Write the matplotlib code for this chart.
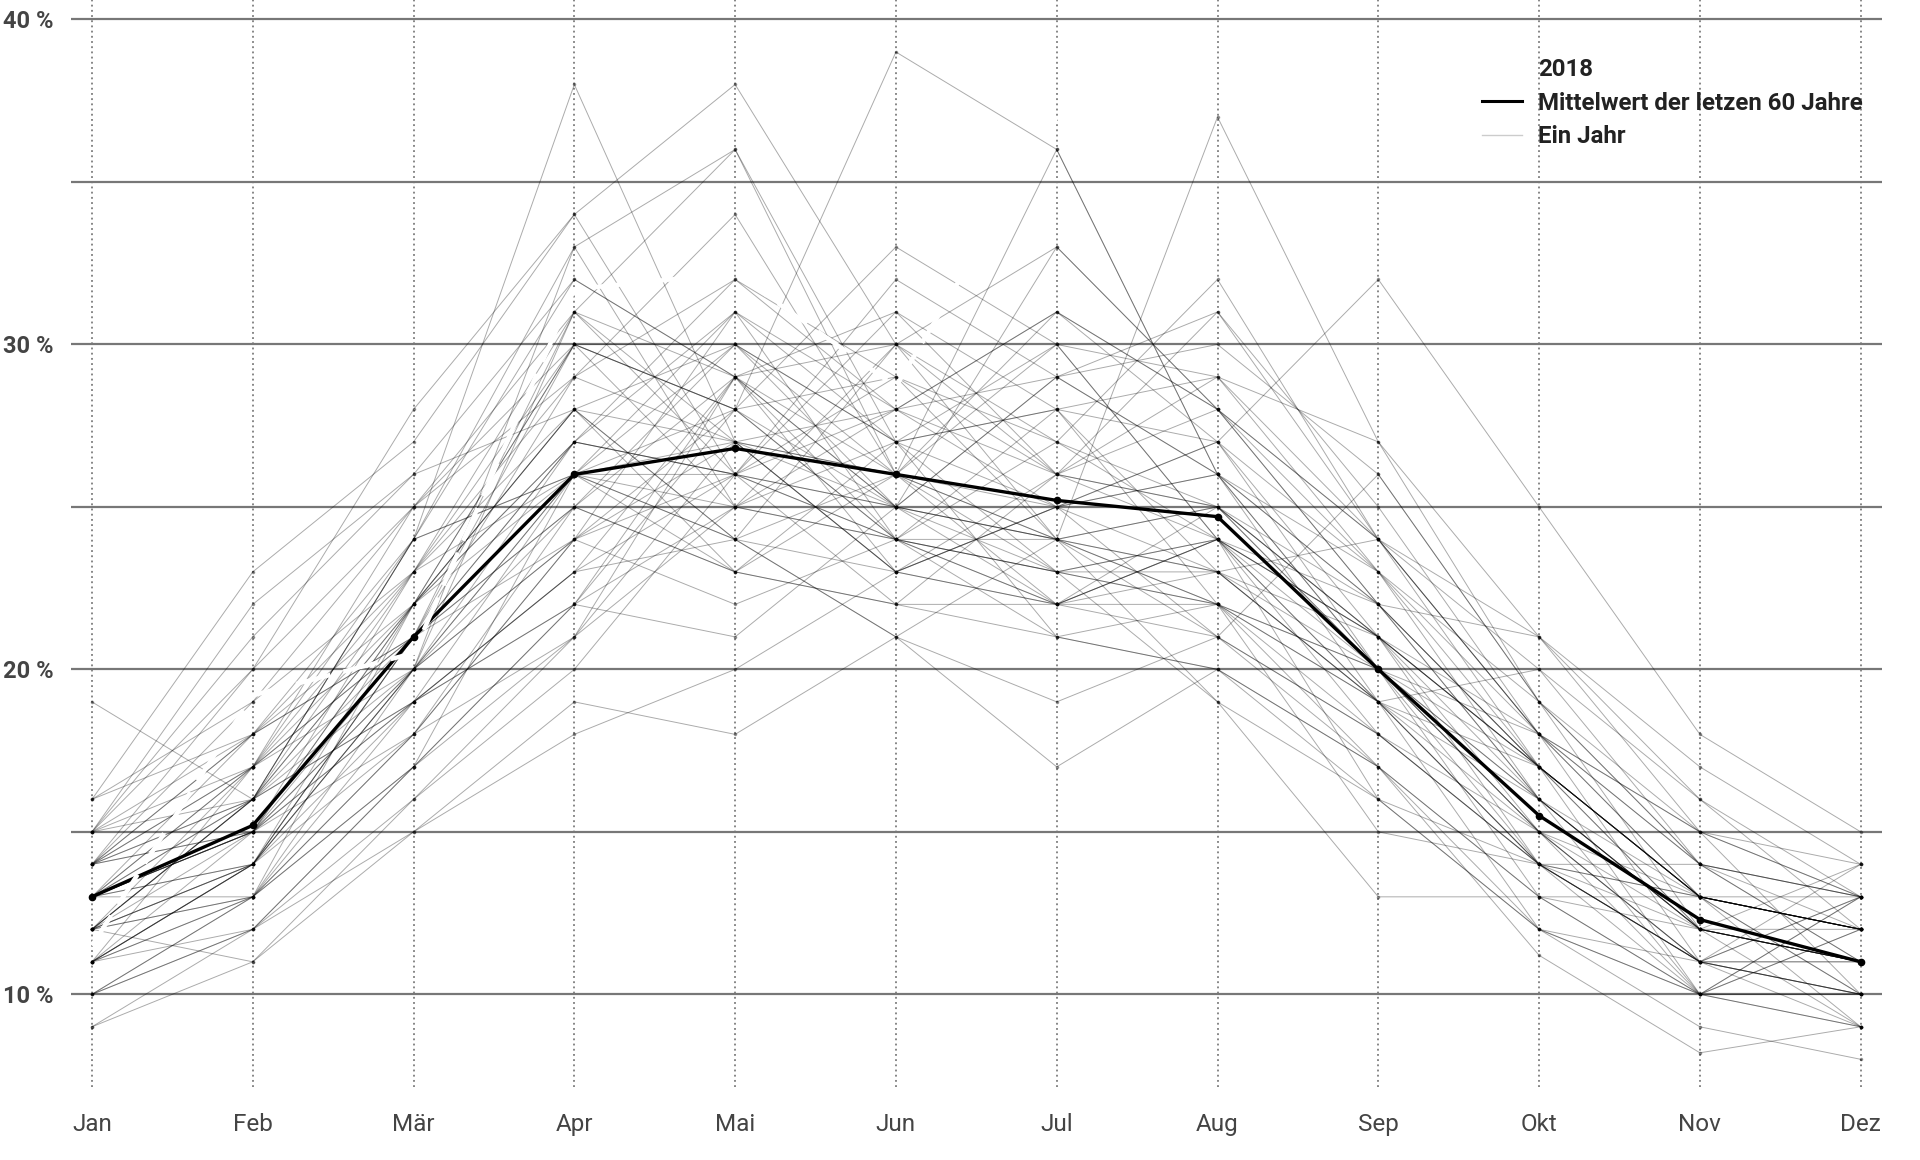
import numpy as np
import matplotlib.pyplot as plt
from matplotlib.lines import Line2D

plt.rcParams['font.family'] = ['Roboto', 'DejaVu Sans']

months = ["Jan", "Feb", "Mär", "Apr", "Mai", "Jun", "Jul", "Aug", "Sep", "Okt", "Nov", "Dez"]

# one row per year, Jan..Dez (%)
years = [
    [13, 15, 22, 27, 26, 25, 24, 25, 20, 18, 11, 13],
    [12, 17, 20, 31, 29, 23, 22, 24, 21, 14, 11, 10],
    [14, 16, 24, 26, 30, 27, 28, 23, 19, 15, 10, 13],
    [11, 14, 19, 22, 25, 30, 26, 28, 22, 17, 12, 11],
    [15, 18, 21, 30, 28, 24, 23, 22, 15, 14, 13, 9],
    [13, 13, 17, 21, 29, 26, 31, 27, 20, 15, 13, 12],
    [16, 23, 27, 34, 26, 22, 21, 20, 17, 13, 10, 12],
    [10, 13, 18, 24, 31, 28, 25, 26, 23, 16, 12, 11],
    [12, 15, 23, 28, 23, 27, 30, 24, 19, 20, 14, 11],
    [9, 12, 16, 21, 27, 25, 29, 31, 24, 18, 13, 10],
    [19, 16, 22, 26, 24, 21, 24, 23, 21, 17, 12, 11],
    [11, 14, 20, 33, 36, 26, 22, 21, 26, 19, 12, 14],
    [14, 20, 25, 30, 25, 24, 27, 25, 20, 16, 13, 12],
    [13, 17, 21, 25, 29, 31, 28, 22, 18, 14, 12, 11],
    [12, 11, 15, 18, 20, 23, 26, 29, 27, 21, 15, 13],
    [15, 21, 26, 32, 29, 24, 23, 24, 22, 21, 16, 12],
    [11, 13, 19, 23, 24, 30, 33, 28, 22, 17, 13, 12],
    [13, 16, 24, 38, 27, 23, 25, 21, 17, 12, 10, 9],
    [14, 18, 22, 27, 32, 29, 24, 23, 19, 16, 10, 13],
    [10, 12, 17, 22, 21, 25, 29, 30, 26, 19, 14, 12],
    [12, 14, 21, 29, 34, 26, 24, 22, 20, 15, 11, 10],
    [16, 18, 23, 26, 23, 22, 22, 25, 21, 15, 11, 14],
    [13, 15, 20, 24, 28, 33, 30, 24, 18, 14, 11, 11],
    [11, 13, 18, 25, 30, 27, 25, 27, 23, 17, 13, 12],
    [14, 17, 25, 31, 26, 24, 22, 23, 24, 17, 10, 12],
    [12, 16, 22, 28, 24, 26, 36, 26, 20, 14, 11, 10],
    [9, 11, 16, 20, 26, 29, 27, 32, 24, 18, 15, 14],
    [13, 15, 19, 23, 29, 25, 23, 24, 16, 14, 13, 10],
    [15, 20, 28, 34, 38, 30, 24, 22, 17, 13, 10, 9],
    [12, 14, 21, 27, 26, 31, 26, 25, 21, 17, 13, 12],
    [14, 16, 20, 24, 22, 24, 28, 29, 24, 20, 16, 13],
    [11, 12, 17, 26, 31, 27, 21, 20, 16, 12, 10, 10],
    [13, 17, 23, 29, 27, 23, 25, 23, 19, 12, 11, 13],
    [12, 14, 18, 21, 25, 28, 31, 28, 24, 21, 17, 14],
    [10, 13, 22, 30, 28, 39, 36, 26, 19, 14, 11, 10],
    [14, 18, 24, 26, 26, 25, 22, 24, 21, 18, 15, 10],
    [13, 15, 21, 31, 36, 27, 23, 19, 16, 12, 9, 8],
    [11, 14, 20, 25, 23, 22, 26, 31, 25, 18, 13, 12],
    [15, 22, 26, 28, 24, 21, 19, 21, 18, 15, 12, 11],
    [12, 16, 19, 22, 29, 30, 27, 24, 21, 17, 13, 12],
    [13, 14, 21, 27, 26, 24, 24, 37, 27, 19, 14, 13],
    [14, 17, 22, 30, 30, 26, 23, 23, 20, 13, 13, 12],
    [11, 15, 18, 24, 27, 28, 29, 26, 22, 16, 12, 12],
    [13, 16, 24, 33, 25, 24, 22, 22, 19, 14, 11, 9],
    [12, 13, 20, 26, 28, 25, 33, 28, 23, 18, 14, 13],
    [16, 19, 25, 29, 32, 28, 26, 24, 20, 16, 12, 11],
    [10, 12, 15, 19, 18, 21, 17, 20, 17, 11.2, 8.2, 9],
    [13, 18, 21, 26, 24, 23, 25, 27, 32, 25, 18, 15],
    [14, 15, 22, 28, 27, 26, 24, 25, 21, 16, 12, 9],
    [12, 16, 19, 23, 26, 32, 29, 26, 20, 15, 11, 11],
    [13, 14, 20, 27, 31, 24, 23, 22, 19, 17, 13, 12],
    [11, 17, 24, 32, 29, 25, 24, 21, 18, 14, 10, 10],
    [15, 16, 21, 25, 23, 26, 30, 29, 23, 19, 15, 13],
    [12, 13, 17, 22, 28, 29, 26, 25, 22, 16, 12, 11],
    [14, 19, 23, 31, 27, 23, 22, 24, 19, 14, 14, 11],
    [13, 15, 20, 26, 25, 27, 28, 27, 21, 17, 13, 12],
    [11, 14, 22, 28, 30, 25, 24, 19, 13, 13, 12, 11],
    [15, 17, 21, 24, 26, 28, 31, 28, 24, 18, 14, 13],
    [12, 16, 23, 30, 28, 24, 21, 22, 20, 17, 13, 13],
    [14, 15, 19, 26, 27, 26, 25, 26, 22, 17, 13, 12],
]

mean_60 = [13.0, 15.2, 21.0, 26.0, 26.8, 26.0, 25.2, 24.7, 20.0, 15.5, 12.3, 11.0]
y2018 = [11.5, 19.2, 20.5, 31.7, 32.2, 28.7, 37.0]

x = np.arange(len(months))

fig = plt.figure(figsize=(19.2, 11.6), dpi=100)
ax = fig.add_axes([0.037, 0.063, 0.943, 0.937])

for row in years:
    ax.plot(x, row, color="black", alpha=0.33, lw=0.7,
            marker="o", markersize=1.6, zorder=2)

ax.plot(x, mean_60, color="black", lw=2.4, marker="o", markersize=4.5, zorder=4)
ax.plot(x[:len(y2018)], y2018, color="white", lw=3.2, dashes=(8, 3), zorder=5)

for xi in x:
    ax.axvline(xi, color="#666666", lw=1.1, ls=(0, (1.2, 2.2)), zorder=1)
for yv in [10, 15, 20, 25, 30, 35, 40]:
    ax.axhline(yv, color="#777777", lw=1.6, zorder=1)

ax.set_xlim(-0.13, 11.13)
ax.set_ylim(7.15, 40.6)
ax.set_xticks(x)
ax.set_xticklabels(months, fontsize=17.5, color="#444444")
ax.set_yticks([10, 20, 30, 40])
ax.set_yticklabels(["10 %", "20 %", "30 %", "40 %"], fontsize=17,
                   fontweight="bold", color="#444444", ha="left")
ax.tick_params(axis="y", length=0, pad=49)
ax.tick_params(axis="x", length=0, pad=19)
for s in ax.spines.values():
    s.set_visible(False)

handles = [
    Line2D([], [], color="white", lw=2.5),
    Line2D([], [], color="black", lw=2.2),
    Line2D([], [], color="#cccccc", lw=1.0),
]
leg = fig.legend(handles, ["2018", "Mittelwert der letzen 60 Jahre", "Ein Jahr"],
                 loc="upper left", bbox_to_anchor=(0.772, 0.950), frameon=False,
                 prop={"weight": "bold", "size": 17.3}, handlelength=1.65,
                 handletextpad=0.68, labelspacing=0.44, borderpad=0, borderaxespad=0)
for t in leg.get_texts():
    t.set_color("#222222")

fig.savefig("out.png", dpi=100, facecolor="white")
